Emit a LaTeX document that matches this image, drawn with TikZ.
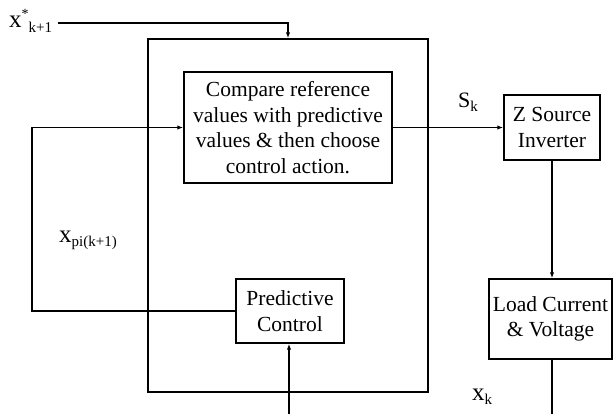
\documentclass[tikz,border=0pt]{standalone}
\usepackage{fontspec}
\setmainfont{LiberationSerif}[Extension=.ttf,UprightFont=*-Regular,BoldFont=*-Bold]
\usetikzlibrary{arrows.meta}
\begin{document}
\begin{tikzpicture}[x=1pt,y=-1pt,
  blk/.style={draw,line width=1.4pt,inner sep=0pt,align=center,font=\fontsize{21.5}{25.5}\selectfont},
  conn/.style={line width=1.3pt},
  arr/.style={conn,-{Latex[length=6pt,width=4.5pt]}},
  lbl/.style={inner sep=0pt,font=\fontsize{25}{26}\selectfont}]
\useasboundingbox (0,0) rectangle (613,414);
% big box
\node[draw,line width=1.4pt,minimum width=280pt,minimum height=353pt,inner sep=0pt] (outer) at (288,215.5) {};
\node[blk,minimum width=208pt,minimum height=111pt] (cmp) at (288,127.5) {Compare reference\\values with predictive\\values \& then choose\\control action.};
\node[blk,minimum width=96pt,minimum height=65pt] (zsi) at (552,127.5) {Z Source\\Inverter};
\node[blk,minimum width=123pt,minimum height=80pt] (load) at (550.5,319) {Load Current\\\& Voltage};
\node[blk,minimum width=108pt,minimum height=64pt] (pc) at (290,311) {Predictive\\Control};
% labels
\node[lbl,anchor=west] (xref) at (9,21) {x\raisebox{9pt}{\fontsize{14}{14}\selectfont *}\raisebox{-5pt}{\fontsize{15}{15}\selectfont k+1}};
\node[lbl,font=\fontsize{22}{24}\selectfont] (sk) at (468,102) {S\raisebox{-4pt}{\fontsize{15}{15}\selectfont k}};
\node[lbl] (xpi) at (88,240) {x\raisebox{-4pt}{\fontsize{15}{15}\selectfont pi(k+1)}};
\node[lbl] (xk) at (482,397) {x\raisebox{-4pt}{\fontsize{15}{15}\selectfont k}};
% coordinates
\coordinate (t1) at (288,23);
\coordinate (b1) at (552,416);
\coordinate (b2) at (289,416);
\coordinate (l1) at (32,311);
\coordinate (l2) at (32,127.5);
% connectors
\draw[arr] (58,23) -- (t1) -- (outer.north -| t1);
\draw[arr] (cmp.east) -- (zsi.west);
\draw[arr] (zsi.south) -- (zsi.south |- load.north);
\draw[arr] (load.south -| zsi.south) -- (b1) -- (b2) -- (b2 |- pc.south);
\draw[arr] (pc.west) -- (l1) -- (l2) -- (cmp.west);
\end{tikzpicture}
\end{document}
